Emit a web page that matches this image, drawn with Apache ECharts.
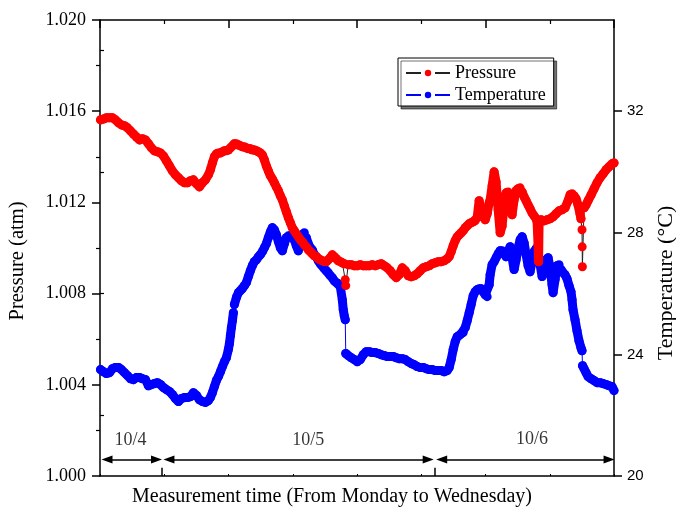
<!DOCTYPE html>
<html>
<head>
<meta charset="utf-8">
<script src="https://cdn.jsdelivr.net/npm/echarts@6/dist/echarts.min.js"></script>
<style>html,body{margin:0;padding:0;background:#fff}#c{width:676px;height:512px}</style>
</head>
<body>
<div id="c"></div>
<script>
// time axis: sample index (0 .. 8000)
var pressureTime = [8,54,101,148,194,241,288,334,381,428,474,521,568,614,
661,708,754,801,847,894,941,987,1034,1081,1127,1174,1221,1267,1314,1361,
1407,1454,1501,1547,1594,1641,1687,1718,1749,1780,1812,1843,1874,1905,1936,1967,1998,
2030,2061,2092,2123,2154,2185,2216,2247,2278,2309,2340,2371,2402,2434,2465,2496,2527,
2558,2589,2620,2651,2682,2713,2745,2776,2807,2838,2869,2900,2931,2962,2993,3024,3056,3087,
3118,3149,3180,3211,3242,3273,3304,3335,3367,3398,3429,3460,3491,3522,3553,3584,3615,3646,3678,3709,3740,3771,3802,
3817,3825,
3864,3911,3958,4004,4051,4098,4144,4191,4237,4284,4331,4377,4424,4471,4517,4564,4611,4657,
4704,4751,4797,4844,4891,4937,4984,5031,5077,5124,5170,5217,5264,5310,5357,5404,
5435,5466,5497,5528,5559,5590,5622,5653,5684,5715,5746,5777,5808,5839,5870,
5901,5932,5964,5995,6026,6057,6072,6103,6134,6165,6197,6228,6259,
6290,6321,6352,6383,6414,6445,6476,6508,6539,6570,6601,6632,6663,6694,6725,6756,6787,6803,
6818,6826,
6834,6865,6912,6959,7005,7052,7099,7145,7192,7238,7285,7316,7347,7378,7409,7440,7471,7486,
7502,7505,7508,
7534,7565,7596,7643,7690,7736,7783,7829,7876,7923,7969,8000];
var pressure = [1.01562,1.01566,1.01571,1.01571,1.01571,1.01562,1.01549,1.01540,1.01536,1.01527,1.01514,1.01500,1.01487,1.01474,
1.01479,1.01474,1.01457,1.01439,1.01426,1.01422,1.01417,1.01404,1.01382,1.01360,1.01338,1.01321,1.01308,1.01295,1.01286,1.01286,
1.01295,1.01299,1.01281,1.01268,1.01286,1.01299,1.01321,1.01343,1.01373,1.01400,1.01413,1.01417,1.01417,1.01422,1.01426,1.01426,1.01430,
1.01439,1.01448,1.01457,1.01457,1.01452,1.01448,1.01444,1.01444,1.01439,1.01435,1.01435,1.01430,1.01430,1.01426,1.01422,1.01417,1.01408,
1.01387,1.01360,1.01338,1.01317,1.01303,1.01286,1.01268,1.01251,1.01229,1.01211,1.01185,1.01159,1.01133,1.01111,1.01089,1.01076,1.01062,1.01049,
1.01036,1.01027,1.01014,1.01005,1.00992,1.00984,1.00975,1.00966,1.00962,1.00953,1.00948,1.00944,1.00940,1.00940,1.00948,1.00957,1.00970,1.00962,1.00953,1.00944,1.00940,1.00935,1.00931,
1.00861,1.00835,
1.00927,1.00927,1.00922,1.00922,1.00927,1.00922,1.00922,1.00922,1.00927,1.00922,1.00927,1.00931,1.00922,1.00913,1.00900,1.00883,1.00870,1.00883,
1.00913,1.00900,1.00878,1.00874,1.00878,1.00887,1.00900,1.00913,1.00918,1.00922,1.00931,1.00935,1.00940,1.00940,1.00944,1.00953,
1.00962,1.00984,1.01010,1.01032,1.01049,1.01058,1.01067,1.01076,1.01089,1.01097,1.01106,1.01111,1.01115,1.01119,1.01133,
1.01207,1.01159,1.01137,1.01124,1.01150,1.01198,1.01211,1.01273,1.01334,1.01290,1.01168,1.01067,1.01097,
1.01189,1.01242,1.01246,1.01220,1.01146,1.01211,1.01251,1.01260,1.01264,1.01246,1.01224,1.01207,1.01189,1.01172,1.01154,1.01141,1.01128,1.01115,
1.01014,1.00940,
1.01115,1.01124,1.01119,1.01124,1.01128,1.01137,1.01150,1.01163,1.01168,1.01176,1.01207,1.01233,1.01238,1.01229,1.01216,1.01189,1.01150,1.01128,
1.01080,1.01005,1.00918,
1.01176,1.01189,1.01207,1.01233,1.01260,1.01286,1.01308,1.01325,1.01343,1.01356,1.01369,1.01373];

var temperatureTime = [8,54,101,148,194,241,288,334,381,428,474,521,568,614,661,708,
754,801,847,894,941,987,1034,1081,1127,1174,1221,1267,1314,1361,1407,1454,
1501,1547,1594,1641,1687,1718,1749,1780,1812,1843,1874,1905,1936,1967,1998,
2014,2030,2045,2061,2076,2092,
2123,2154,2185,2216,2247,2278,2309,2340,2371,2402,2434,2465,2496,2527,2558,2589,2620,2651,
2682,2713,2745,2776,2807,2838,2869,2900,2931,2962,2993,3024,3056,3087,3118,3149,3180,3211,
3242,3273,3304,3335,3367,3398,3429,3460,3491,3522,3553,3584,3615,3646,3678,3709,3740,
3771,3786,3802,3817,
3825,3864,3911,3958,4004,4051,4098,4144,4191,4237,4284,4331,4377,
4424,4471,4517,4564,4611,4657,4704,4751,4797,4844,4891,4937,4984,5031,5077,5124,5170,5217,5264,5310,5357,5404,
5435,5466,5497,5528,5559,5590,5622,5653,5684,5715,5746,5777,5808,5839,5870,5901,5932,5964,5995,6026,
6057,6072,6103,6134,6165,6197,6228,6259,6290,6321,6352,6383,6414,6445,6476,6508,6539,6570,
6601,6632,6663,6694,6725,6756,6787,6818,6850,6881,6912,6943,6974,7005,7036,7052,7083,7114,
7145,7176,7207,7238,7269,7300,7331,7347,7362,7393,7424,7455,7486,7502,
7510,7534,7565,7596,7643,7690,7736,7783,7829,7876,7923,7969,8000];
var temperature = [23.50,23.43,23.37,23.40,23.53,23.57,23.57,23.50,23.40,23.30,23.20,23.17,23.24,23.24,23.20,23.17,
22.97,23.01,23.04,23.07,23.01,22.91,22.84,22.78,22.68,22.55,22.45,22.55,22.58,22.58,22.61,22.74,
22.65,22.51,22.45,22.42,22.48,22.58,22.74,22.94,23.14,23.27,23.43,23.60,23.76,23.89,24.16,
24.35,24.62,24.88,25.11,25.37,25.64,
25.87,26.03,26.10,26.16,26.26,26.36,26.56,26.75,26.92,27.05,27.11,27.21,27.28,27.38,27.51,27.64,27.84,28.03,
28.17,28.10,27.94,27.71,27.51,27.41,27.64,27.84,27.90,27.90,27.84,27.77,27.57,27.41,27.71,27.94,28.00,27.84,
27.64,27.51,27.44,27.28,27.21,27.08,26.98,26.92,26.82,26.75,26.69,26.59,26.52,26.42,26.36,26.33,26.23,
25.80,25.47,25.27,25.14,
24.03,23.96,23.89,23.83,23.76,23.83,23.99,24.09,24.09,24.06,24.06,24.03,23.99,
23.96,23.93,23.93,23.93,23.89,23.86,23.86,23.83,23.76,23.70,23.66,23.60,23.57,23.57,23.53,23.50,23.50,23.47,23.47,23.47,23.43,23.47,
23.57,23.83,24.16,24.42,24.58,24.62,24.68,24.72,24.88,25.11,25.37,25.64,25.93,26.06,26.13,26.16,26.16,26.06,25.96,25.90,
26.29,26.62,26.95,27.05,27.18,27.31,27.41,27.41,27.31,27.21,27.38,27.54,27.18,26.79,27.11,27.51,27.77,27.87,
27.67,27.28,26.92,26.72,27.05,27.38,27.48,27.34,26.95,26.56,26.79,27.11,27.18,26.85,26.29,26.03,26.46,26.92,
26.95,26.79,26.69,26.62,26.49,26.26,26.06,25.80,25.47,25.14,24.78,24.45,24.22,24.12,
23.63,23.53,23.40,23.27,23.20,23.14,23.07,23.07,23.04,23.01,22.97,22.94,22.81];

// recording gaps (time of the last sample before a gap)
var pressureGapsAfter = [3802, 3817, 3825, 7486, 7502, 7505, 7508];
var temperatureGapsAfter = [2076, 3817, 7502];

// axis ticks
var temperatureMajorTicks = [20, 24, 28, 32];
var temperatureMinorTicks = [22, 26, 30, 34];

// day annotations (in time-axis / pressure-axis units)
var dayLabels = ['10/4', '10/5', '10/6'];
var dayLabelTime = [474, 3242, 6725];
var dayLabelLevel = [1.00155, 1.00155, 1.00163];
var daySpanStart = [109, 1073, 5318];
var daySpanEnd = [879, 5108, 7923];
var dayBoundaries = [956, 5217];
var arrowLevel = 1.00072;

function pairs(xs, ys) {
  var out = [];
  for (var i = 0; i < Math.min(xs.length, ys.length); i++) out.push([xs[i], ys[i]]);
  return out;
}
function bandPairs(xs, ys, gaps) {
  var out = [];
  for (var i = 0; i < Math.min(xs.length, ys.length); i++) {
    out.push([xs[i], ys[i]]);
    if (gaps.indexOf(xs[i]) >= 0) out.push(['-', '-']);
  }
  return out;
}

var serif = 'Liberation Serif';
var sans = 'Liberation Sans';

var arrowLines = [];
for (var i = 0; i < daySpanStart.length; i++) {
  arrowLines.push([{coord: [daySpanStart[i], arrowLevel]}, {coord: [daySpanEnd[i], arrowLevel]}]);
}
for (var j = 0; j < dayBoundaries.length; j++) {
  arrowLines.push([{coord: [dayBoundaries[j], 1.000], symbol: 'none'},
                   {coord: [dayBoundaries[j], 1.00036], symbol: 'none'}]);
}

var labelData = [];
for (var k = 0; k < dayLabels.length; k++) labelData.push([dayLabelTime[k], dayLabelLevel[k], dayLabels[k]]);

var chart = echarts.init(document.getElementById('c'), null, {renderer: 'canvas'});
chart.setOption({
  animation: false,
  backgroundColor: '#fff',
  grid: {left: 100, right: 62, top: 20, bottom: 36, containLabel: false},
  legend: {
    data: ['Pressure', 'Temperature'],
    orient: 'vertical',
    left: 398, top: 58,
    padding: [6, 8, 2, 7],
    itemGap: 4,
    itemWidth: 44, itemHeight: 8,
    backgroundColor: '#fff',
    borderColor: '#000', borderWidth: 1, borderRadius: 0,
    shadowColor: 'rgba(0,0,0,0.55)', shadowBlur: 0, shadowOffsetX: 3, shadowOffsetY: 3,
    textStyle: {fontFamily: serif, fontSize: 18, color: '#000'},
    lineStyle: {type: [15, 14]},
    selectedMode: false
  },
  xAxis: [{
    type: 'value', position: 'bottom', min: 0, max: 8000, interval: 1000,
    axisLine: {show: true, onZero: false, lineStyle: {color: '#000', width: 1.5}},
    axisTick: {show: true, inside: true, length: 2, lineStyle: {color: '#000'}},
    axisLabel: {show: false}, splitLine: {show: false}
  }, {
    type: 'value', position: 'top', min: 0, max: 8000, interval: 2000,
    axisLine: {show: true, onZero: false, lineStyle: {color: '#000', width: 1.5}},
    axisTick: {show: true, inside: true, length: 8, lineStyle: {color: '#000', width: 1.5}},
    minorTick: {show: true, splitNumber: 2, length: 4, lineStyle: {color: '#000', width: 1.2}},
    axisLabel: {show: false}, splitLine: {show: false}
  }],
  yAxis: [{
    type: 'value', position: 'left', min: 1.000, max: 1.020, interval: 0.004,
    axisLine: {show: true, onZero: false, lineStyle: {color: '#000', width: 1.5}},
    axisTick: {show: true, inside: false, length: 8, lineStyle: {color: '#000', width: 1.5}},
    minorTick: {show: true, splitNumber: 2, length: 4, lineStyle: {color: '#000', width: 1.2}},
    axisLabel: {margin: 14, fontFamily: serif, fontSize: 18, color: '#000',
      formatter: function (v) { return v.toFixed(3); }},
    splitLine: {show: false}
  }, {
    type: 'value', position: 'right', min: 20, max: 35, interval: 4,
    axisLine: {show: true, onZero: false, lineStyle: {color: '#000', width: 1.5}},
    axisTick: {show: true, inside: false, length: 8, customValues: temperatureMajorTicks, lineStyle: {color: '#000', width: 1.5}},
    axisLabel: {margin: 13, fontFamily: sans, fontSize: 15, color: '#000', customValues: temperatureMajorTicks},
    splitLine: {show: false}
  }, {
    type: 'value', position: 'right', min: 20, max: 35, interval: 2,
    axisLine: {show: false},
    axisTick: {show: true, inside: false, length: 4, customValues: temperatureMinorTicks, lineStyle: {color: '#000', width: 1.2}},
    axisLabel: {show: false},
    splitLine: {show: false}
  }],
  graphic: [
    {type: 'text', x: 18, y: 261, rotation: Math.PI / 2, silent: true,
      style: {text: 'Pressure (atm)', fontFamily: serif, fontSize: 20.5, fill: '#000', align: 'center', verticalAlign: 'middle'}},
    {type: 'text', x: 666, y: 283, rotation: Math.PI / 2, silent: true,
      style: {text: 'Temperature (\u00B0C)', fontFamily: serif, fontSize: 22, fill: '#000', align: 'center', verticalAlign: 'middle'}},
    {type: 'text', x: 332, y: 497, silent: true,
      style: {text: 'Measurement time (From Monday to Wednesday)', fontFamily: serif, fontSize: 20, fill: '#000', align: 'center', verticalAlign: 'middle'}}
  ],
  series: [{
    name: 'Temperature', type: 'line', xAxisIndex: 0, yAxisIndex: 1,
    data: pairs(temperatureTime, temperature),
    symbol: 'circle', symbolSize: 9, showSymbol: true, showAllSymbol: true,
    itemStyle: {color: '#0000ff'},
    lineStyle: {color: '#0000ff', width: 1},
    emphasis: {disabled: true}, silent: true, z: 1
  }, {
    name: 'Temperature band', type: 'line', xAxisIndex: 0, yAxisIndex: 1,
    data: bandPairs(temperatureTime, temperature, temperatureGapsAfter),
    showSymbol: false, connectNulls: false,
    lineStyle: {color: '#0000ff', width: 9, cap: 'round', join: 'round'},
    emphasis: {disabled: true}, silent: true, z: 2
  }, {
    name: 'Pressure', type: 'line', xAxisIndex: 0, yAxisIndex: 0,
    data: pairs(pressureTime, pressure),
    symbol: 'circle', symbolSize: 9, showSymbol: true, showAllSymbol: true,
    itemStyle: {color: '#ff0000'},
    lineStyle: {color: '#222', width: 1},
    emphasis: {disabled: true}, silent: true, z: 3
  }, {
    name: 'Pressure band', type: 'line', xAxisIndex: 0, yAxisIndex: 0,
    data: bandPairs(pressureTime, pressure, pressureGapsAfter),
    showSymbol: false, connectNulls: false,
    lineStyle: {color: '#ff0000', width: 9, cap: 'round', join: 'round'},
    emphasis: {disabled: true}, silent: true, z: 4
  }, {
    name: 'annotations', type: 'scatter', xAxisIndex: 0, yAxisIndex: 0,
    data: labelData, symbolSize: 1, itemStyle: {color: 'rgba(0,0,0,0)'},
    silent: true, z: 5,
    label: {show: true, position: 'inside', fontFamily: serif, fontSize: 18, color: '#000',
      formatter: function (p) { return p.value[2]; }},
    markLine: {
      silent: true, animation: false,
      symbol: ['triangle', 'triangle'], symbolSize: [8, 11],
      lineStyle: {color: '#000', width: 1.5, type: 'solid'},
      label: {show: false},
      data: arrowLines
    }
  }]
});
</script>
</body>
</html>
